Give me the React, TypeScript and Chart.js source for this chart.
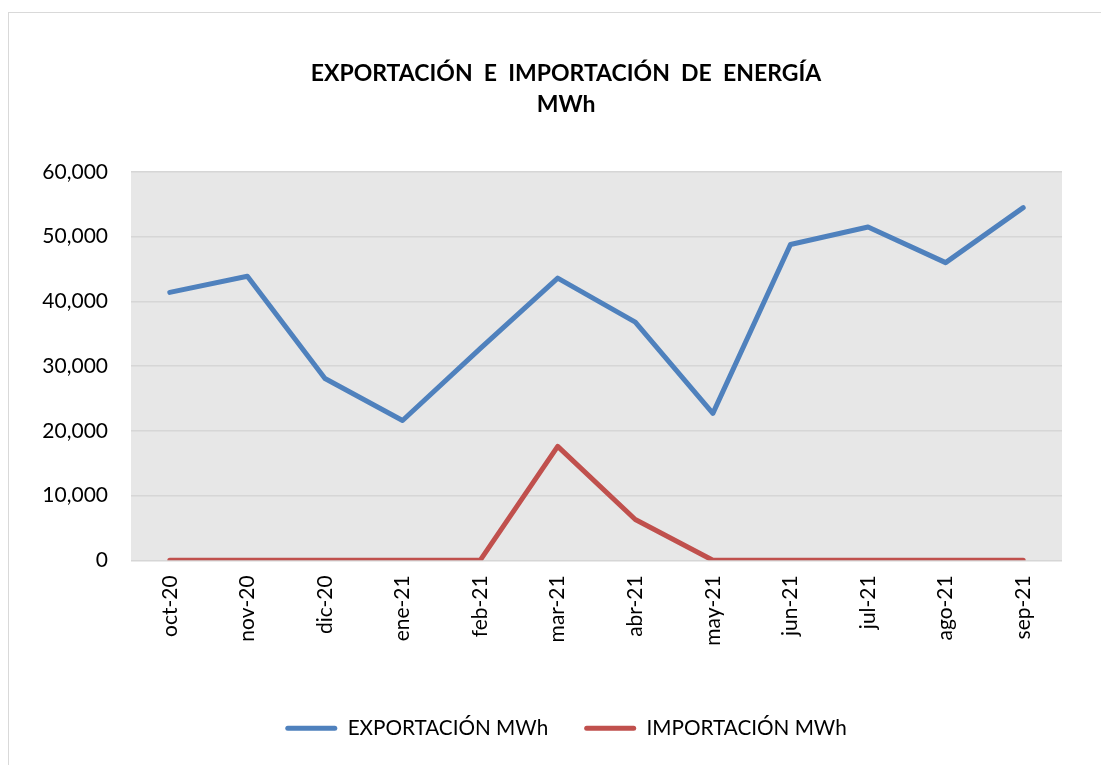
import React, { useEffect, useRef } from 'react';
import { Chart, registerables } from 'chart.js';

Chart.register(...registerables);

const categories = ['oct-20', 'nov-20', 'dic-20', 'ene-21', 'feb-21', 'mar-21', 'abr-21', 'may-21', 'jun-21', 'jul-21', 'ago-21', 'sep-21'];
const exportacion = [41400, 43900, 28100, 21600, 32700, 43600, 36800, 22700, 48800, 51500, 46000, 54500];
const importacion = [0, 0, 0, 0, 0, 17600, 6300, 0, 0, 0, 0, 0];
const seriesNames = ['EXPORTACIÓN MWh', 'IMPORTACIÓN MWh'];
const seriesColors = ['#4f81bd', '#c0504d'];
const titleLines = ['EXPORTACIÓN  E  IMPORTACIÓN  DE  ENERGÍA', 'MWh'];
const yMin = 0;
const yMax = 60000;
const yStep = 10000;

const CANVAS_W = 1140;
const CANVAS_H = 765;

export default function App() {
  const ref = useRef<HTMLCanvasElement>(null);

  useEffect(() => {
    const bg = {
      id: 'bg',
      beforeDraw(chart: any) {
        const { ctx, chartArea: a } = chart;
        ctx.save();
        ctx.fillStyle = '#ffffff';
        ctx.fillRect(0, 0, chart.width, chart.height);
        ctx.strokeStyle = '#d9d9d9';
        ctx.lineWidth = 1;
        ctx.strokeRect(8.5, 12.5, 1300, 1000);
        ctx.fillStyle = '#e7e7e7';
        ctx.fillRect(a.left, a.top, a.right - a.left, a.bottom - a.top);
        ctx.restore();
      },
    };

    const chart = new Chart(ref.current as HTMLCanvasElement, {
      type: 'line',
      data: {
        labels: categories,
        datasets: [
          {
            label: seriesNames[0],
            data: exportacion,
            borderColor: seriesColors[0],
            backgroundColor: seriesColors[0],
            borderWidth: 5,
            pointRadius: 0,
            tension: 0,
            borderCapStyle: 'round',
            borderJoinStyle: 'round',
          },
          {
            label: seriesNames[1],
            data: importacion,
            borderColor: seriesColors[1],
            backgroundColor: seriesColors[1],
            borderWidth: 5,
            pointRadius: 0,
            tension: 0,
            borderCapStyle: 'round',
            borderJoinStyle: 'round',
          },
        ],
      },
      options: {
        responsive: false,
        animation: false,
        devicePixelRatio: 1,
        layout: { padding: { left: 0, right: 8, top: 0, bottom: 16.5 } },
        plugins: {
          tooltip: { enabled: false },
          title: {
            display: true,
            text: titleLines,
            color: '#000',
            font: { family: 'Lato', size: 23, weight: 'bold', lineHeight: 31 / 23 },
            padding: { top: 58, bottom: 52 },
          },
          legend: {
            display: true,
            position: 'bottom',
            labels: {
              color: '#000',
              font: { family: 'Lato', size: 20.7 },
              boxWidth: 52,
              boxHeight: 5,
              padding: 36,
              generateLabels(c: any) {
                const items = Chart.defaults.plugins.legend.labels.generateLabels(c);
                return items.map((it: any) => ({ ...it, lineWidth: 0, borderRadius: 2.5 }));
              },
            },
          },
        },
        scales: {
          x: {
            offset: true,
            grid: { display: false, drawTicks: false },
            border: { display: false },
            ticks: {
              color: '#000',
              font: { family: 'Lato', size: 21 },
              minRotation: 90,
              maxRotation: 90,
              autoSkip: false,
              padding: 15,
            },
            afterFit(scale: any) {
              scale.height = 121.5;
            },
          },
          y: {
            min: yMin,
            max: yMax,
            grid: { color: '#d6d6d6', lineWidth: 1.5, drawTicks: false },
            border: { display: false },
            ticks: {
              stepSize: yStep,
              color: '#000',
              font: { family: 'Lato', size: 21 },
              padding: 23,
              callback: (v: any) => Number(v).toLocaleString('en-US'),
            },
            afterFit(scale: any) {
              scale.width = 131;
            },
          },
          spacer: {
            type: 'linear',
            position: 'right',
            display: true,
            grid: { display: false, drawTicks: false },
            border: { display: false },
            ticks: { display: false },
            afterFit(scale: any) {
              scale.width = 70;
            },
          },
        },
      },
      plugins: [bg],
    } as any);

    return () => chart.destroy();
  }, []);

  return (
    <div style={{ position: 'fixed', left: 0, top: 0, width: 1101, height: 765, overflow: 'hidden', background: '#fff' }}>
      <canvas ref={ref} width={CANVAS_W} height={CANVAS_H} style={{ display: 'block' }} />
    </div>
  );
}
